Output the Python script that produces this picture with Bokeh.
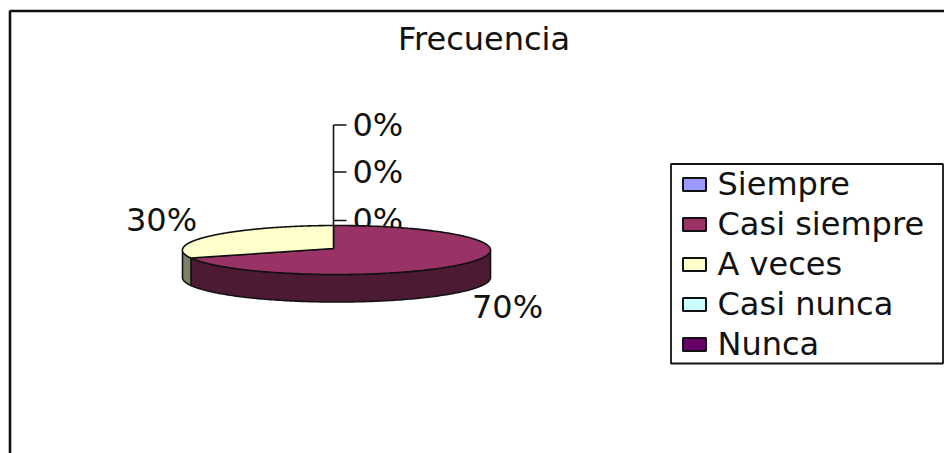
import numpy as np
from bokeh.plotting import figure
from bokeh.models import Range1d
from bokeh.core.properties import value
from bokeh.embed import file_html
from bokeh.resources import INLINE

TITLE = "Frecuencia"
categories = ["Siempre", "Casi siempre", "A veces", "Casi nunca", "Nunca"]
percent = [0, 70, 30, 0, 0]
colors = ["#9999FF", "#993366", "#FFFFCC", "#CCFFFF", "#660066"]
side_colors = ["#4D4D80", "#4D1A33", "#808066", "#668080", "#330033"]

FONT = "DejaVu Sans"
TXT = "#111111"
FS = "32px"
W, H = 944, 453

# one data unit = one picture pixel
p = figure(width=W, height=H, output_backend="svg", toolbar_location=None,
           x_range=Range1d(0, W), y_range=Range1d(H, 0),
           min_border=0, outline_line_color=None, background_fill_color="white",
           border_fill_color="white")
p.axis.visible = False
p.grid.visible = False

# chart frame
p.line([9.5, 9.5, 944], [453, 10.5, 10.5], line_color="#111111", line_width=2.6)

# title
p.text([483.5], [38], text=[TITLE], text_align="center", text_baseline="middle",
       text_font=value(FONT), text_font_size=FS, text_color=TXT)

# pie geometry
cx, cy, rx, ry, depth = 336.0, 249.5, 154.0, 24.5, 27.5
ax, ay = 333.0, 248.0
start = np.arcsin((ax - cx) / rx)

# leader axis carrying the zero-share labels, hidden in part by the pie
zero_idx = [i for i, v in enumerate(percent) if v == 0]
tick_y = [124.5, 171.5, 220.0]
p.line([ax, ax], [tick_y[0], ay], line_color="#111111", line_width=1.6)
p.segment([ax] * 3, tick_y, [346] * 3, tick_y, line_color="#111111", line_width=1.6)
p.text([352] * 3, [y - 0.5 for y in tick_y], text=[f"{percent[i]}%" for i in zero_idx],
       text_align="left", text_baseline="middle",
       text_font=value(FONT), text_font_size=FS, text_color=TXT)


def pt(theta, dz=0.0):
    return cx + rx * np.sin(theta), cy - ry * np.cos(theta) + dz


cum = start
tops = []
for i, v in enumerate(percent):
    a0, a1 = cum, cum + 2 * np.pi * v / 100
    cum = a1
    if v <= 0:
        continue
    th = np.linspace(a0, a1, 240)
    ex, ey = pt(th)
    tops.append(([ax, *ex, ax], [ay, *ey, ay], i))
    lo, hi = max(a0, np.pi / 2), min(a1, 3 * np.pi / 2)
    if hi > lo:
        ts = np.linspace(lo, hi, 160)
        tx, ty = pt(ts)
        bx, by = pt(ts[::-1], depth)
        p.patch([*tx, *bx], [*ty, *by], fill_color=side_colors[i],
                line_color="#111111", line_width=1.6)

for xs, ys, i in tops:
    p.patch(xs, ys, fill_color=colors[i], line_color="#111111", line_width=1.6)

# data labels for the non-zero slices
label_anchor = {1: (507, 306), 2: (161, 219)}
for i, (lx, ly) in label_anchor.items():
    p.text([lx], [ly], text=[f"{percent[i]}%"], text_align="center", text_baseline="middle",
           text_font=value(FONT), text_font_size=FS, text_color=TXT)

# legend box
p.quad(left=[670.5], right=[942.5], top=[163.5], bottom=[363], fill_color="white",
       line_color="#111111", line_width=1.8)
rows = [184 + 40 * k for k in range(len(categories))]
p.rect([694] * len(rows), rows, width=23, height=13, fill_color=colors,
       line_color="#111111", line_width=2)
p.text([717] * len(rows), [r - 1 for r in rows], text=categories, text_align="left",
       text_baseline="middle", text_font=value(FONT), text_font_size=FS, text_color=TXT)

open("out.html", "w").write(file_html(p, INLINE))
